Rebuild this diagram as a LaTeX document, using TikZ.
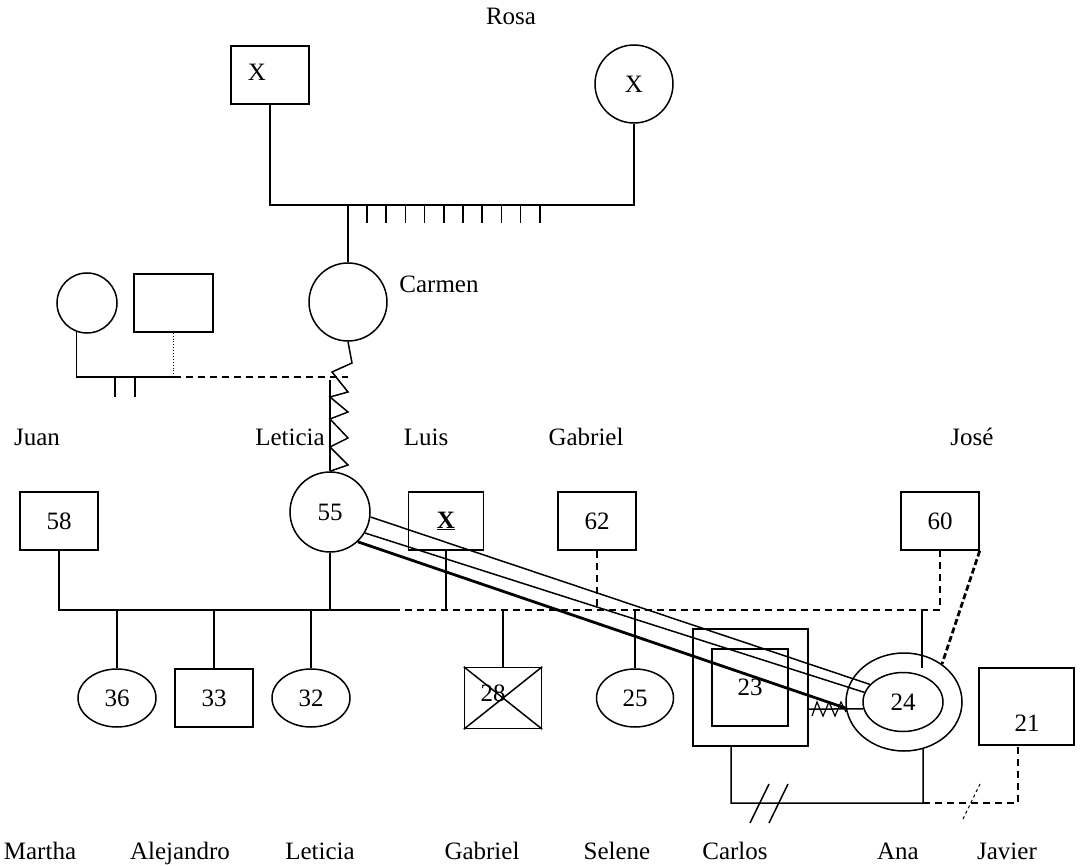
\documentclass[tikz,border=0pt]{standalone}
\usepackage{fontspec}
\setmainfont{Liberation Serif}
\usetikzlibrary{shapes.geometric}

\tikzset{
  male/.style={draw, rectangle, minimum width=78pt, minimum height=58pt, inner sep=0pt},
  female/.style={draw, circle, minimum size=78pt, inner sep=0pt},
  child/.style={draw, ellipse, minimum width=78pt, minimum height=58pt, inner sep=0pt},
  tag/.style={anchor=base, inner sep=0pt},
  distant/.style={dash pattern=on 7pt off 5pt},
}

\begin{document}
\begin{tikzpicture}[x=1pt, y=-1pt, line width=1.5pt, font=\fontsize{25}{29}\selectfont]
\useasboundingbox (0,0) rectangle (1081,866);

% grandparents and their children
\node[tag] (rosa) at (511,25) {Rosa};
\node[male] (abuelo) at (270,75) {};
\node (abueloX) at (257,72) {X};
\node[female] (abuela) at (634,84) {X};
\coordinate (hermanos) at (634,205);
\draw (abuelo.south) |- (hermanos) -- (abuela.south);
\foreach \i in {0,...,9}
  \draw ({367+19.2*\i},205) -- ++(0,18);

\node[female] (carmen) at (348,302) {};
\node[tag] (carmenN) at (439,293) {Carmen};
\draw (carmen.north) -- (carmen.north |- hermanos);

% couple on the left
\node[draw, circle, minimum size=60pt, inner sep=0pt] (tia) at (87,303) {};
\node[male, minimum width=79pt] (tio) at (173.5,303) {};
\coordinate (pareja) at (173.5,377);
\coordinate (corteA) at (348,377);
\draw (tia.250) |- (pareja);
\draw[dotted, line width=0.9pt] (tio.south) -- (pareja);
\draw[distant] (pareja) -- (corteA);
\foreach \x in {115,135}
  \draw (\x,377) -- ++(0,20);

% names of the parents
\node[tag] (juanN) at (37,445) {Juan};
\node[tag] (leticiaN) at (290,445) {Leticia};
\node[tag] (luisN) at (426,445) {Luis};
\node[tag] (gabrielN) at (586,445) {Gabriel};
\node[tag] (joseN) at (972,445) {José};

\node[male] (juan) at (59,521) {58};
\node[female, minimum size=80pt] (leticia) at (330,512) {55};
\node[male, minimum width=75pt] (luis) at (446,521) {\underline{\textbf{X}}};
\node[male] (gabriel) at (597,521) {62};
\node[male] (jose) at (940,521) {60};

% conflict between Carmen and Leticia
\draw (carmen.south) -- (352,363) -- (332,372) -- (348,392) -- (330,397) -- (348,412)
  -- (330,419) -- (348,438) -- (330,447) -- (348,465) -- (leticia.north);
\draw (330,380) -- (leticia.north);

% sibling line
\coordinate (corte) at (393,610);
\draw (juan.south) |- (corte);
\draw[distant] (corte) -- (jose.south |- corte) -- (jose.south);
\draw (leticia.south) -- (leticia.south |- corte);
\draw (luis.south) -- (luis.south |- corte);
\draw[distant] (gabriel.south) -- (gabriel.south |- corte);

% children
\node[child] (martha) at (117,698) {36};
\node[male] (alejandro) at (214,698) {33};
\node[child] (leticiaH) at (311,698) {32};
\node[male, minimum width=77pt, minimum height=61pt] (gabrielH) at (503,698) {};
\node (gabrielHx) at (493,693) {28};
\node[child, minimum width=77pt] (selene) at (635,698) {25};
\foreach \h in {martha, alejandro, leticiaH, gabrielH, selene}
  \draw (\h.north) -- (\h.north |- corte);
\draw (gabrielH.north west) -- (gabrielH.south east)
      (gabrielH.north east) -- (gabrielH.south west);

\node[male, minimum width=115pt, minimum height=117pt] (carlosE) at (750.5,687.5) {};
\node[male, minimum width=76pt, minimum height=77pt] (carlos) at (750,687.5) {23};
\node[child, minimum width=116pt, minimum height=98pt] (anaE) at (904,702) {};
\node[child, minimum width=80pt, minimum height=59pt] (ana) at (903,702) {24};
\node[male, minimum width=95pt, minimum height=77pt] (javier) at (1026.5,706.5) {};
\node (javierX) at (1027,723) {21};

\coordinate (anaArriba) at (922,668);
\draw (anaArriba |- corte) -- (anaArriba);
\draw[line width=2.8pt, dash pattern=on 6pt off 3pt] (jose.south east) -- (anaE.45);

% Leticia and Ana
\draw (leticia.-7) -- (ana.152);
\draw (leticia.-31) -- (ana.166);
\draw[line width=2.8pt] (leticia.-47) -- (anaE.186);

% Carlos and Ana
\draw ([yshift=-21.5pt]carlosE.east) -- (ana.190);
\draw[line width=1.2pt] (812,716) -- (817,702) -- (823,716) -- (829,702) -- (835,716)
  -- (841,702) -- (846,712);
\coordinate (divorcio) at (923,803);
\draw ([xshift=-19.5pt]carlosE.south) |- (divorcio) -- (anaE.-68);
\foreach \x in {750,769}
  \draw (\x,823) -- ++(19,-39);
\draw[distant] (divorcio) -| ([xshift=-8.5pt]javier.south);
\draw[dashed, line width=1pt] (963,819) -- (980,784);

% names of the children
\node[tag] (marthaN) at (40,859) {Martha};
\node[tag] (alejandroN) at (180,859) {Alejandro};
\node[tag] (leticiaHN) at (320,859) {Leticia};
\node[tag] (gabrielHN) at (482,859) {Gabriel};
\node[tag] (seleneN) at (617,859) {Selene};
\node[tag] (carlosN) at (735,859) {Carlos};
\node[tag] (anaN) at (898,859) {Ana};
\node[tag] (javierN) at (1007,859) {Javier};
\end{tikzpicture}
\end{document}
